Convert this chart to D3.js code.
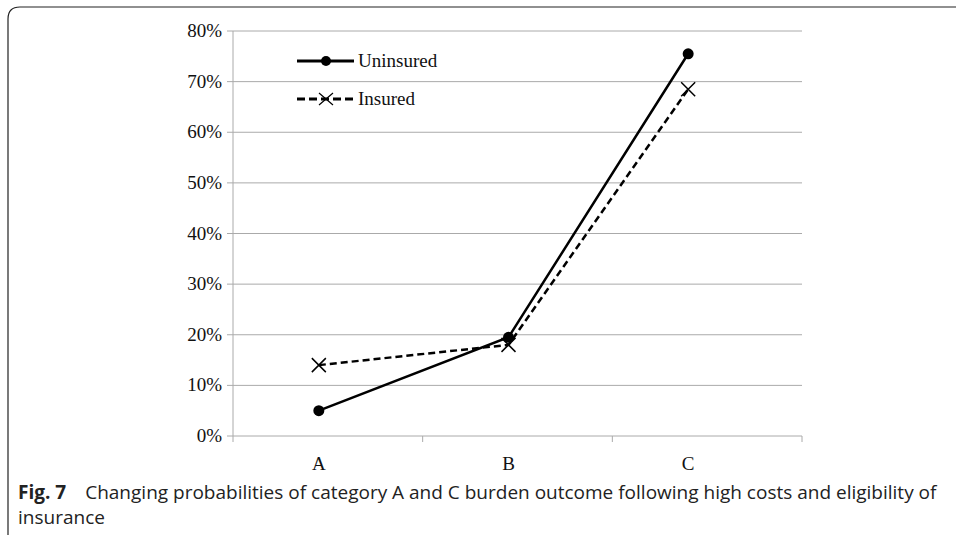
<!DOCTYPE html>
<html><head><meta charset="utf-8">
<script src="https://cdn.jsdelivr.net/npm/d3@7"></script>
<style>body{margin:0;background:#fff}</style>
</head><body><svg id="c" width="956" height="535"></svg>
<script>
const categories = ["A", "B", "C"];
const uninsured = [0.05, 0.195, 0.755];
const insured = [0.14, 0.18, 0.685];
const yTicks = [0, 0.1, 0.2, 0.3, 0.4, 0.5, 0.6, 0.7, 0.8];

const svg = d3.select("#c");
// frame
svg.append("path")
    .attr("d", "M8,535 L8,19 Q8,7 20,7 L956,7")
    .attr("fill", "none").attr("stroke", "#222").attr("stroke-width", 1.2);

const pLeft = 233, pRight = 802, pTop = 31, pBottom = 436;
const x = d3.scaleBand().domain(categories).range([pLeft, pRight]);
const y = d3.scaleLinear().domain([0, 0.8]).range([pBottom, pTop]);

const g = svg.append("g");
g.selectAll("line.grid").data(yTicks).enter().append("line")
    .attr("x1", pLeft - 6).attr("x2", pRight)
    .attr("y1", d => y(d)).attr("y2", d => y(d))
    .attr("stroke", "#aaa");
g.append("line").attr("x1", pLeft).attr("x2", pLeft).attr("y1", pTop).attr("y2", pBottom).attr("stroke", "#aaa");
g.selectAll("text.yl").data(yTicks).enter().append("text")
    .attr("x", pLeft - 11).attr("y", d => y(d) + 6)
    .attr("text-anchor", "end")
    .style("font", "19px 'Liberation Serif'").attr("fill", "#111")
    .text(d => Math.round(d * 100) + "%");
const xt = [pLeft].concat(categories.map(c => x(c) + x.bandwidth()));
g.selectAll("line.xt").data(xt).enter().append("line")
    .attr("x1", d => d).attr("x2", d => d).attr("y1", pBottom).attr("y2", pBottom + 6).attr("stroke", "#aaa");
g.selectAll("text.xl").data(categories).enter().append("text")
    .attr("x", (d, i) => x(d) + x.bandwidth() / 2 - 9 - (i === 2 ? 10 : 0)).attr("y", pBottom + 34)
    .attr("text-anchor", "middle")
    .style("font", "19px 'Liberation Serif'").attr("fill", "#111")
    .text(d => d);

const cx = (d, i) => x(categories[i]) + x.bandwidth() / 2 - 9 - (i === 2 ? 10 : 0);
const line = d3.line().x(cx).y(d => y(d));

g.append("path").datum(uninsured).attr("d", line)
    .attr("fill", "none").attr("stroke", "#000").attr("stroke-width", 2.5);
g.selectAll("circle.u").data(uninsured).enter().append("circle")
    .attr("cx", cx).attr("cy", d => y(d)).attr("r", 5.5).attr("fill", "#000");

g.append("path").datum(insured).attr("d", line)
    .attr("fill", "none").attr("stroke", "#000").attr("stroke-width", 2.5).attr("stroke-dasharray", "7,4");
insured.forEach((d, i) => {
    const px = cx(d, i), py = y(d), s = 7;
    g.append("path").attr("d", `M${px-s},${py-s}L${px+s},${py+s}M${px-s},${py+s}L${px+s},${py-s}`)
        .attr("stroke", "#000").attr("stroke-width", 1.5);
});

// legend
const lg = g.append("g");
lg.append("line").attr("x1", 297).attr("x2", 354).attr("y1", 61).attr("y2", 61).attr("stroke", "#000").attr("stroke-width", 3);
lg.append("circle").attr("cx", 326).attr("cy", 61).attr("r", 5).attr("fill", "#000");
lg.append("text").attr("x", 358).attr("y", 67).style("font", "19px 'Liberation Serif'").attr("fill", "#111").text("Uninsured");
lg.append("line").attr("x1", 297).attr("x2", 354).attr("y1", 99).attr("y2", 99).attr("stroke", "#000").attr("stroke-width", 3).attr("stroke-dasharray", "8,4");
lg.append("path").attr("d", "M319,93L333,105M319,105L333,93").attr("stroke", "#000").attr("stroke-width", 1.2);
lg.append("text").attr("x", 358).attr("y", 105).style("font", "19px 'Liberation Serif'").attr("fill", "#111").text("Insured");

// caption
const cap = svg.append("text").attr("x", 18).attr("y", 499).style("font", "19px 'Open Sans'").attr("fill", "#222");
cap.append("tspan").style("font-weight", "bold").text("Fig. 7");
cap.append("tspan").text("\u2003Changing probabilities of category A and C burden outcome following high costs and eligibility of");
svg.append("text").attr("x", 18).attr("y", 524).style("font", "19px 'Open Sans'").attr("fill", "#222").text("insurance");
</script></body></html>
